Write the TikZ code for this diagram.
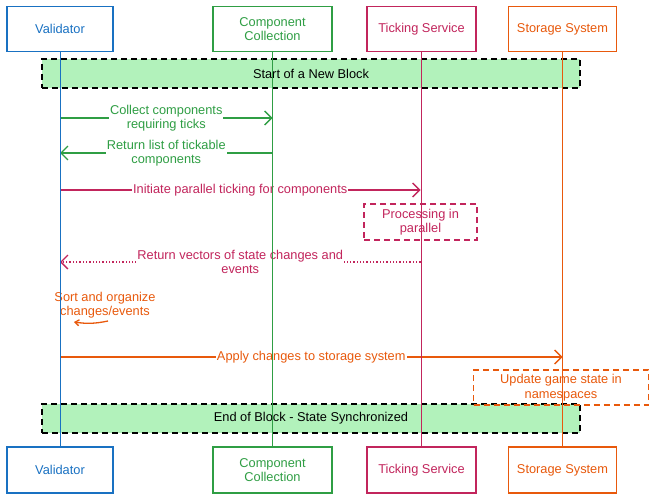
\documentclass[tikz,border=0pt]{standalone}
\usepackage{fontspec}
\setmainfont{Liberation Sans}
\usetikzlibrary{arrows.meta}
\definecolor{cblue}{HTML}{1971C2}
\definecolor{cgreen}{HTML}{2F9E44}
\definecolor{cred}{HTML}{C2255C}
\definecolor{corange}{HTML}{E8590C}
\definecolor{cband}{HTML}{B2F2BB}
\tikzset{
  actor/.style={draw=#1, text=#1, line width=1.3pt, fill=white, minimum width=106pt, minimum height=45pt, align=center, inner sep=0pt},
  lifeline/.style={draw=#1, line width=0.9pt},
  msg/.style={draw=#1, line width=1.3pt, -{Straight Barb[length=7pt,width=14pt,line width=1.3pt]}},
  msglabel/.style={fill=white, text=#1, align=center, inner sep=1pt},
  band/.style={draw=black, fill=cband, line width=1.3pt, dash pattern=on 6pt off 4pt, minimum width=538pt, minimum height=29pt},
  notebox/.style={draw=#1, text=#1, line width=1.3pt, dash pattern=on 6pt off 4pt, align=center},
}
\begin{document}
\begin{tikzpicture}[x=1pt,y=-1pt, font=\fontsize{12.8}{14.5}\selectfont]
\useasboundingbox (0,0) rectangle (655,500);
% banners
\node[band] (b1) at (311,73.5) {Start of a New Block};
\node[band] (b2) at (311,418.5) {End of Block - State Synchronized};
% notes
\node[notebox=cred, minimum width=113pt, minimum height=36pt] (n1) at (420.5,222) {Processing in\\parallel};
\node[notebox=corange, minimum width=175pt, minimum height=35pt] (n2) at (561,387.5) {Update game state in\\namespaces};
% actors top
\node[actor=cblue] (v1) at (60,29) {Validator};
\node[actor=cgreen, minimum width=119pt] (c1) at (272.5,29) {Component\\Collection};
\node[actor=cred, minimum width=109pt] (t1) at (421.5,29) {Ticking Service};
\node[actor=corange, minimum width=108pt] (s1) at (562.5,29) {Storage System};
% actors bottom
\node[actor=cblue, minimum height=46pt] (v2) at (60,470) {Validator};
\node[actor=cgreen, minimum width=119pt, minimum height=46pt] (c2) at (272.5,470) {Component\\Collection};
\node[actor=cred, minimum width=109pt, minimum height=46pt] (t2) at (421.5,470) {Ticking Service};
\node[actor=corange, minimum width=108pt, minimum height=46pt] (s2) at (562.5,470) {Storage System};
% message end points
\coordinate (m1a) at (60,118);  \coordinate (m1b) at (272.5,118);
\coordinate (m2a) at (272.5,153); \coordinate (m2b) at (60,153);
\coordinate (m3a) at (60,190);  \coordinate (m3b) at (420.5,190);
\coordinate (m5a) at (420.5,262); \coordinate (m5b) at (60,262);
\coordinate (m6a) at (108,321); \coordinate (m6b) at (74,322);
\coordinate (m7a) at (60,357);  \coordinate (m7b) at (562.5,357);
% messages
\draw[msg=cgreen] (m1a) -- node[msglabel=cgreen] (l1) {Collect components\\requiring ticks} (m1b);
\draw[msg=cgreen] (m2a) -- node[msglabel=cgreen] (l2) {Return list of tickable\\components} (m2b);
\draw[msg=cred] (m3a) -- node[msglabel=cred] (l3) {Initiate parallel ticking for components} (m3b);
\draw[msg=cred, dotted, line width=1.6pt] (m5a) -- node[msglabel=cred] (l5) {Return vectors of state changes and\\events} (m5b);
\node[text=corange, align=center] (sort) at (105,305) {Sort and organize\\changes/events};
\draw[draw=corange, line width=1.3pt, -{Straight Barb[length=4pt,width=6pt,line width=1.3pt]}] (m6a) to[bend left=10] (m6b);
\draw[msg=corange] (m7a) -- node[msglabel=corange] (l7) {Apply changes to storage system} (m7b);
% lifelines
\draw[lifeline=cblue] (v1) -- (v2);
\draw[lifeline=cgreen] (c1) -- (c2);
\draw[lifeline=cred] (t1) -- (t2);
\draw[lifeline=corange] (s1) -- (s2);
\end{tikzpicture}
\end{document}
